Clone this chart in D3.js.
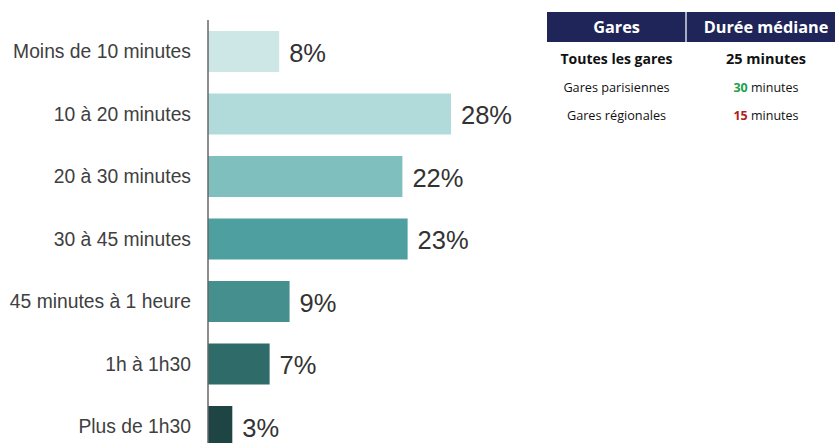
<!DOCTYPE html>
<html><head><meta charset="utf-8">
<script src="https://cdn.jsdelivr.net/npm/d3@7"></script>
<style>body{margin:0;background:#fff;} svg{display:block;}</style>
</head><body>
<svg id="c" width="835" height="443"></svg>
<script>
const categories = ["Moins de 10 minutes","10 à 20 minutes","20 à 30 minutes","30 à 45 minutes","45 minutes à 1 heure","1h à 1h30","Plus de 1h30"];
const values = [8.2, 28, 22.4, 23, 9.4, 7.1, 2.8];
const barColors = ["#cde7e7","#b1dbdb","#7fc0bf","#4e9fa0","#45908e","#2f6b69","#1e4543"];
const tableHeader = ["Gares","Durée médiane"];
const tableGroups = ["Toutes les gares","Gares parisiennes","Gares régionales"];
const tableMedians = [25, 30, 15];
const medianColors = ["#111","#22a04a","#b01e1e"];

const svg = d3.select("#c");
const x = d3.scaleLinear().domain([0, 28]).range([208, 451]);
const y = d3.scaleBand().domain(categories).range([20.25, 457.75]).paddingInner(0.344).paddingOuter(0.172);

svg.selectAll("rect.bar").data(categories).join("rect")
  .attr("class","bar")
  .attr("x", x(0)).attr("y", d => y(d))
  .attr("width", (d,i) => x(values[i]) - x(0))
  .attr("height", y.bandwidth())
  .attr("fill", (d,i) => barColors[i]);

const yAxis = d3.axisLeft(y).tickSize(0).tickPadding(17);
const ga = svg.append("g").attr("transform", `translate(${x(0)},0)`).call(yAxis);
ga.select(".domain").remove();
ga.selectAll("text").attr("font-family","Liberation Sans, Arial, sans-serif").attr("font-size",19.3).attr("fill","#404040").attr("dy","0.34em");
svg.append("line").attr("x1",x(0)).attr("x2",x(0)).attr("y1",20).attr("y2",443).attr("stroke","#666").attr("stroke-width",1.5);

svg.selectAll("text.val").data(categories).join("text")
  .attr("class","val")
  .attr("x", (d,i) => x(values[i]) + 10)
  .attr("y", d => y(d) + y.bandwidth()/2)
  .attr("dy","0.4em")
  .attr("font-family","Liberation Sans, Arial, sans-serif").attr("font-size",25.5).attr("fill","#333")
  .text((d,i) => Math.round(values[i]) + "%");

// table
const tx0 = 547, tdiv = 686, tx1 = 835;
svg.append("rect").attr("x",tx0).attr("y",12).attr("width",tx1-tx0).attr("height",30).attr("fill","#1f2558");
svg.append("line").attr("x1",tdiv).attr("x2",tdiv).attr("y1",12).attr("y2",42).attr("stroke","#d8dbe8").attr("stroke-width",1.5);
const font = "Open Sans, Noto Sans, sans-serif";
const c1 = (tx0+tdiv)/2, c2 = 766;
svg.append("text").attr("x",c1).attr("y",33).attr("text-anchor","middle").attr("font-family",font).attr("font-weight","bold").attr("font-size",16.3).attr("fill","#fff").text(tableHeader[0]);
svg.append("text").attr("x",c2).attr("y",33).attr("text-anchor","middle").attr("font-family",font).attr("font-weight","bold").attr("font-size",16.3).attr("fill","#fff").text(tableHeader[1]);
const rowY = [64, 92, 120];
tableGroups.forEach((g,i) => {
  const bold = i === 0;
  svg.append("text").attr("x",c1).attr("y",rowY[i]).attr("text-anchor","middle")
    .attr("font-family",font).attr("font-weight",bold?"bold":"normal").attr("font-size",bold?14:12.7).attr("fill","#111").text(g);
  const t = svg.append("text").attr("x",c2).attr("y",rowY[i]).attr("text-anchor","middle")
    .attr("font-family",font).attr("font-weight",bold?"bold":"normal").attr("font-size",bold?14.5:12.5).attr("fill","#111");
  t.append("tspan").attr("font-weight","bold").attr("fill",medianColors[i]).text(tableMedians[i]);
  t.append("tspan").text(" minutes");
});
</script>
</body></html>
